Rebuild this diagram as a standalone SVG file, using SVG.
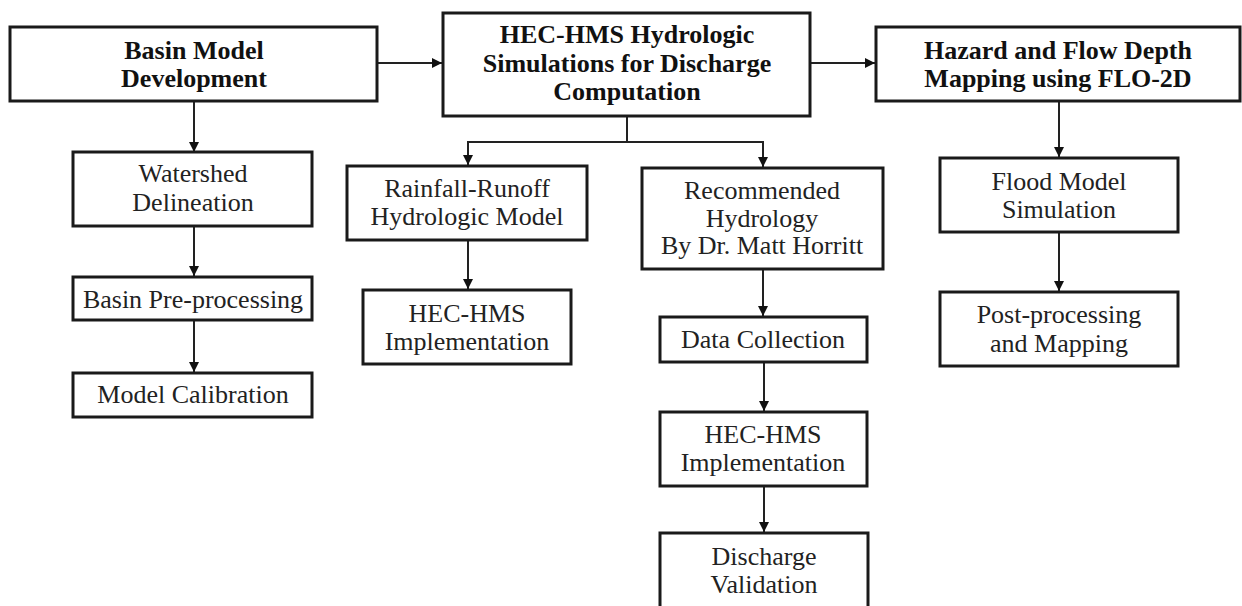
<svg xmlns="http://www.w3.org/2000/svg" width="1242" height="606" viewBox="0 0 1242 606">
<style>
.box{fill:#fff;stroke:#1a1a1a;stroke-width:3}
.t{font-family:"Liberation Serif","Times New Roman",serif;font-size:26px;fill:#222;text-anchor:middle}
.b{font-weight:bold;fill:#111}
.c{fill:none;stroke:#222;stroke-width:2}
</style>
<defs>
<marker id="ah" markerUnits="userSpaceOnUse" markerWidth="12" markerHeight="12" viewBox="0 0 12 12" refX="11" refY="6" orient="auto">
<path d="M1,1 L11,6 L1,11 Z" fill="#111"/>
</marker>
</defs>
<rect width="1242" height="606" fill="#fff"/>
<g id="connectors">
<path class="c" d="M377,63 H442" marker-end="url(#ah)"/>
<path class="c" d="M810,63 H875" marker-end="url(#ah)"/>
<path class="c" d="M194,101 V152" marker-end="url(#ah)"/>
<path class="c" d="M194,226 V276" marker-end="url(#ah)"/>
<path class="c" d="M194,320 V372" marker-end="url(#ah)"/>
<path class="c" d="M627,116 V142 H468 V165" marker-end="url(#ah)"/>
<path class="c" d="M627,142 H763 V167" marker-end="url(#ah)"/>
<path class="c" d="M468,240 V289" marker-end="url(#ah)"/>
<path class="c" d="M763,269 V316" marker-end="url(#ah)"/>
<path class="c" d="M764,362 V411" marker-end="url(#ah)"/>
<path class="c" d="M764,486 V532" marker-end="url(#ah)"/>
<path class="c" d="M1059,101 V157" marker-end="url(#ah)"/>
<path class="c" d="M1059,232 V291" marker-end="url(#ah)"/>
</g>
<g id="basin-model">
<rect class="box" x="10" y="27" width="367" height="74"/>
<text class="t b" x="194" y="59">Basin Model</text>
<text class="t b" x="194" y="87">Development</text>
</g>
<g id="hec-hms-sim">
<rect class="box" x="443" y="13" width="367" height="103"/>
<text class="t b" x="627" y="43">HEC-HMS Hydrologic</text>
<text class="t b" x="627" y="72">Simulations for Discharge</text>
<text class="t b" x="627" y="100">Computation</text>
</g>
<g id="hazard">
<rect class="box" x="876" y="27" width="364" height="74"/>
<text class="t b" x="1058" y="59">Hazard and Flow Depth</text>
<text class="t b" x="1058" y="87">Mapping using FLO-2D</text>
</g>
<g id="watershed">
<rect class="box" x="73" y="152" width="239" height="74"/>
<text class="t" x="193" y="182">Watershed</text>
<text class="t" x="193" y="211">Delineation</text>
</g>
<g id="basin-pre">
<rect class="box" x="73" y="277" width="239" height="43"/>
<text class="t" x="193" y="308">Basin Pre-processing</text>
</g>
<g id="model-calibration">
<rect class="box" x="73" y="373" width="239" height="44"/>
<text class="t" x="193" y="403">Model Calibration</text>
</g>
<g id="rainfall-runoff">
<rect class="box" x="347" y="166" width="240" height="74"/>
<text class="t" x="467" y="197">Rainfall-Runoff</text>
<text class="t" x="467" y="225">Hydrologic Model</text>
</g>
<g id="hec-impl-left">
<rect class="box" x="363" y="290" width="208" height="74"/>
<text class="t" x="467" y="322">HEC-HMS</text>
<text class="t" x="467" y="350">Implementation</text>
</g>
<g id="recommended">
<rect class="box" x="642" y="168" width="241" height="101"/>
<text class="t" x="762" y="199">Recommended</text>
<text class="t" x="762" y="227">Hydrology</text>
<text class="t" x="762" y="254">By Dr. Matt Horritt</text>
</g>
<g id="data-collection">
<rect class="box" x="660" y="317" width="207" height="45"/>
<text class="t" x="763" y="348">Data Collection</text>
</g>
<g id="hec-impl-right">
<rect class="box" x="660" y="412" width="207" height="74"/>
<text class="t" x="763" y="443">HEC-HMS</text>
<text class="t" x="763" y="471">Implementation</text>
</g>
<g id="discharge-validation">
<rect class="box" x="660" y="533" width="208" height="80"/>
<text class="t" x="764" y="565">Discharge</text>
<text class="t" x="764" y="593">Validation</text>
</g>
<g id="flood-model">
<rect class="box" x="940" y="158" width="238" height="74"/>
<text class="t" x="1059" y="190">Flood Model</text>
<text class="t" x="1059" y="218">Simulation</text>
</g>
<g id="post-processing">
<rect class="box" x="940" y="292" width="238" height="74"/>
<text class="t" x="1059" y="323">Post-processing</text>
<text class="t" x="1059" y="352">and Mapping</text>
</g>
</svg>
